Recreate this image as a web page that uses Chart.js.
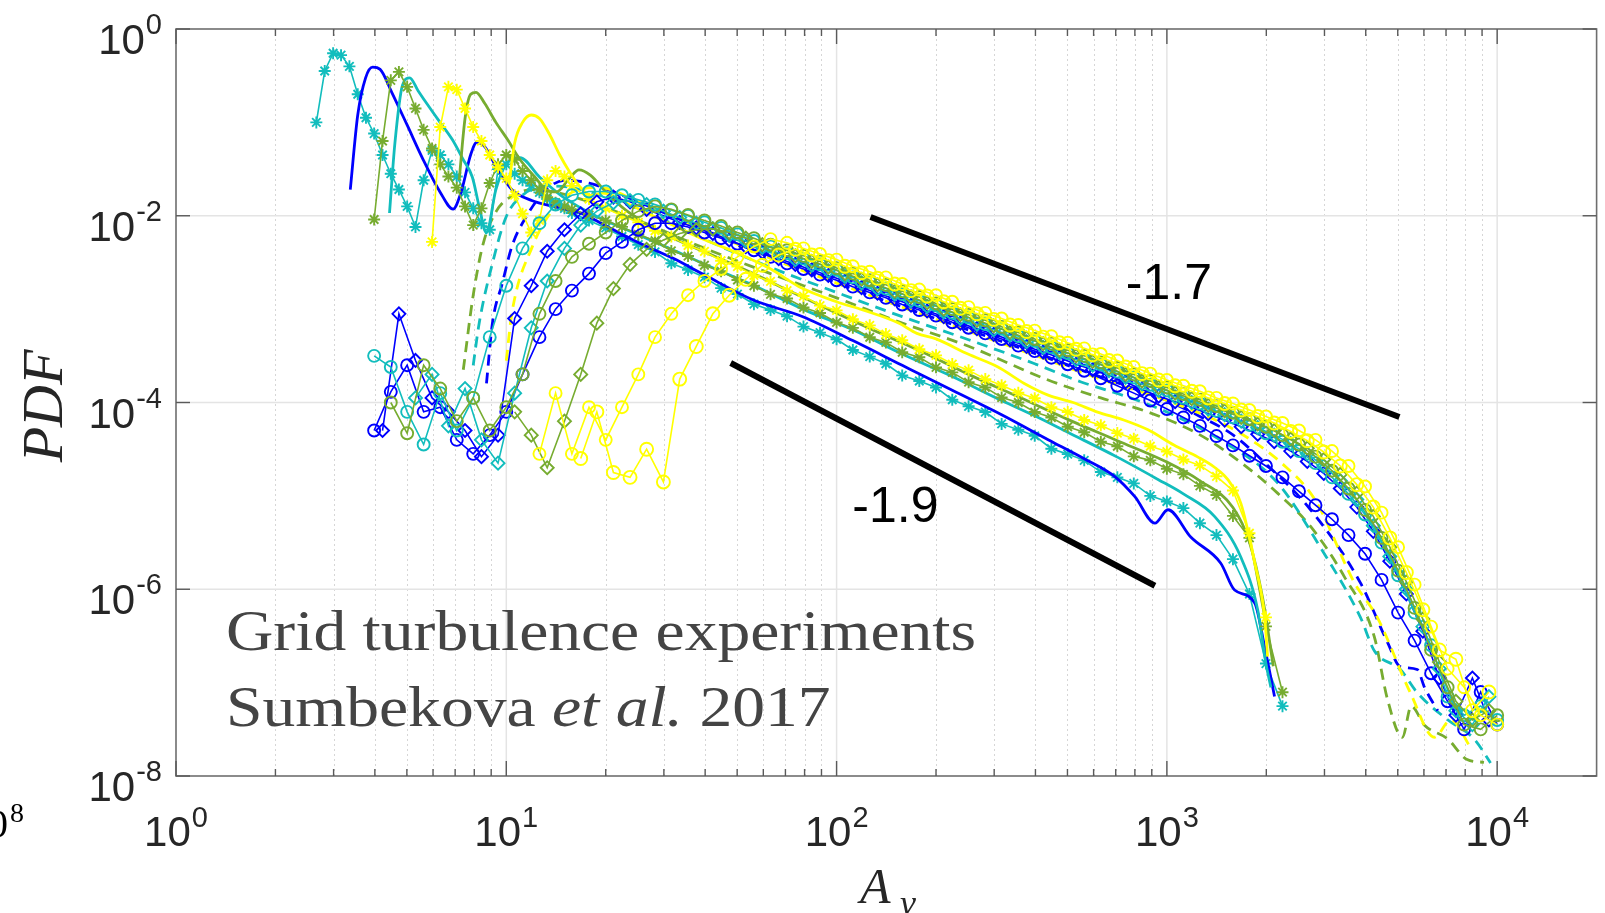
<!DOCTYPE html>
<html>
<head>
<meta charset="utf-8">
<script src="https://cdn.jsdelivr.net/npm/chart.js@4/dist/chart.umd.min.js"></script>
<style>
  html, body { margin: 0; padding: 0; background: #ffffff; overflow: hidden; }
  #wrap { width: 1605px; height: 913px; position: relative; }
</style>
</head>
<body>
<div id="wrap"><canvas id="c" width="1605" height="913"></canvas></div>
<script>
// ---------------- data ----------------
const xTickExps = [0, 1, 2, 3, 4];
const yTickExps = [0, -2, -4, -6, -8];
const yGridExps = [-2, -4, -6];

// shared bin centres (x) used by the marker series
const gridA = [3.98, 4.47, 5.01, 5.62, 6.31, 7.08, 7.94, 8.91, 10, 11.2, 12.6, 14.1, 15.8, 17.8, 20, 22.4, 25.1, 28.2, 31.6, 35.5, 39.8, 44.7, 50.1, 56.2, 63.1, 70.8, 79.4, 89.1, 100, 112, 126, 141, 158, 178, 200, 224, 251, 282, 316, 355, 398, 447, 501, 562, 631, 708, 794, 891, 1000, 1122, 1259, 1413, 1585, 1778, 1995, 2239, 2512, 2818, 3162, 3548, 3981, 4467, 5012, 5623, 6310, 7079, 7943, 8913, 10000];
const gridB = [4.22, 4.73, 5.31, 5.96, 6.68, 7.50, 8.41, 9.44, 10.6, 11.9, 13.3, 15.0, 16.8, 18.8, 21.1, 23.7, 26.6, 29.9, 33.5, 37.6, 42.2, 47.3, 53.1, 59.6, 66.8, 75.0, 84.1, 94.4, 106, 119, 133, 150, 168, 188, 211, 237, 266, 299, 335, 376, 422, 473, 531, 596, 668, 750, 841, 944, 1059, 1189, 1334, 1496, 1679, 1884, 2113, 2371, 2661, 2985, 3350, 3758, 4217, 4732, 5309, 5957, 6683, 7499, 8414, 9441];
const gridS = [2.51, 2.66, 2.82, 2.99, 3.16, 3.35, 3.55, 3.76, 3.98, 4.22, 4.47, 4.73, 5.01, 5.31, 5.62, 5.96, 6.31, 6.68, 7.08, 7.50, 7.94, 8.41, 8.91, 9.44, 10.0, 10.6, 11.2, 11.9, 12.6, 13.3, 14.1, 15.0, 15.8, 17.8, 20.0, 22.4, 25.1, 28.2, 31.6, 35.5, 39.8, 44.7, 50.1, 56.2, 63.1, 70.8, 79.4, 89.1, 100, 112, 126, 141, 158, 178, 200, 224, 251, 282, 316, 355, 398, 447, 501, 562, 631, 708, 794, 891, 1000, 1122, 1259, 1413, 1585, 1778, 1995, 2239];

// --- circles / diamonds (upper family) ---
const cyanCircY = [3.16e-4, 2.40e-4, 7.94e-5, 3.55e-5, 1.26e-4, 5.01e-5, 1.12e-4, 5.01e-4, 1.78e-3, 4.47e-3,
  8.32e-3, 1.32e-2, 1.66e-2, 1.82e-2, 1.82e-2, 1.66e-2, 1.48e-2, 1.32e-2, 1.15e-2, 1.00e-2,
  8.51e-3, 7.41e-3, 6.31e-3, 5.37e-3, 4.68e-3, 3.98e-3, 3.47e-3, 3.02e-3, 2.63e-3, 2.19e-3,
  1.95e-3, 1.66e-3, 1.45e-3, 1.23e-3, 1.10e-3, 9.12e-4, 8.13e-4, 6.92e-4, 6.17e-4, 5.13e-4,
  4.57e-4, 3.89e-4, 3.39e-4, 2.88e-4, 2.57e-4, 2.14e-4, 1.86e-4, 1.55e-4, 1.35e-4, 1.12e-4,
  9.77e-5, 8.13e-5, 6.92e-5, 5.75e-5, 4.68e-5, 3.80e-5, 3.02e-5, 2.24e-5, 1.58e-5, 1.05e-5,
  6.31e-6, 3.16e-6, 1.41e-6, 5.62e-7, 2.51e-7, 7.08e-8, 4.47e-8, 5.62e-8, 3.98e-8];
const greenCircY = [null, 1.00e-4, 4.68e-5, 2.51e-4, 1.41e-4, 6.31e-5, 1.12e-4, 5.01e-5, 8.91e-5, 2.00e-4,
  8.91e-4, 2.00e-3, 3.63e-3, 5.01e-3, 6.61e-3, 8.91e-3, 1.12e-2, 1.26e-2, 1.17e-2, 1.02e-2,
  8.91e-3, 7.76e-3, 6.61e-3, 5.75e-3, 4.90e-3, 4.27e-3, 3.72e-3, 3.24e-3, 2.75e-3, 2.40e-3,
  2.04e-3, 1.82e-3, 1.55e-3, 1.35e-3, 1.15e-3, 1.00e-3, 8.71e-4, 7.59e-4, 6.46e-4, 5.62e-4,
  4.79e-4, 4.27e-4, 3.63e-4, 3.16e-4, 2.69e-4, 2.34e-4, 2.00e-4, 1.70e-4, 1.45e-4, 1.23e-4,
  1.07e-4, 9.12e-5, 7.76e-5, 6.61e-5, 5.50e-5, 4.47e-5, 3.55e-5, 2.63e-5, 1.86e-5, 1.20e-5,
  7.08e-6, 3.55e-6, 1.58e-6, 6.31e-7, 2.24e-7, 8.91e-8, 3.55e-8, 3.16e-8, 4.47e-8];
const yellowCircAY = [null, null, null, null, null, null, null, null, null, null,
  2.82e-5, 1.26e-4, 2.82e-5, 8.91e-5, 3.98e-5, 8.91e-5, 2.00e-4, 5.01e-4, 8.91e-4, 1.41e-3,
  2.00e-3, 2.69e-3, 3.63e-3, 4.68e-3, 5.62e-3, 5.13e-3, 4.47e-3, 3.89e-3, 3.39e-3, 2.88e-3,
  2.51e-3, 2.19e-3, 1.86e-3, 1.62e-3, 1.41e-3, 1.20e-3, 1.05e-3, 9.12e-4, 7.94e-4, 6.76e-4,
  5.89e-4, 5.13e-4, 4.37e-4, 3.80e-4, 3.31e-4, 2.82e-4, 2.40e-4, 2.04e-4, 1.74e-4, 1.51e-4,
  1.32e-4, 1.12e-4, 9.77e-5, 8.32e-5, 7.08e-5, 6.03e-5, 5.01e-5, 3.98e-5, 3.02e-5, 2.09e-5,
  1.26e-5, 6.61e-6, 2.82e-6, 1.12e-6, 3.98e-7, 1.41e-7, 8.91e-8, 4.47e-8, 3.55e-8];
const blueCircY = [5.01e-5, 1.30e-4, 2.51e-4, 7.94e-5, 8.91e-5, 3.98e-5, 2.82e-5, 4.47e-5, 7.94e-5, 2.00e-4,
  5.01e-4, 1.00e-3, 1.58e-3, 2.40e-3, 3.98e-3, 5.25e-3, 7.08e-3, 8.32e-3, 8.32e-3, 7.59e-3,
  6.61e-3, 5.75e-3, 5.01e-3, 4.27e-3, 3.63e-3, 3.09e-3, 2.69e-3, 2.34e-3, 2.04e-3, 1.74e-3,
  1.51e-3, 1.32e-3, 1.12e-3, 9.77e-4, 8.51e-4, 7.24e-4, 6.31e-4, 5.50e-4, 4.79e-4, 4.07e-4,
  3.55e-4, 3.02e-4, 2.57e-4, 2.19e-4, 1.82e-4, 1.51e-4, 1.26e-4, 1.05e-4, 8.51e-5, 6.92e-5,
  5.62e-5, 4.37e-5, 3.47e-5, 2.69e-5, 2.09e-5, 1.58e-5, 1.12e-5, 7.94e-6, 5.62e-6, 3.80e-6,
  2.40e-6, 1.26e-6, 5.62e-7, 2.82e-7, 1.26e-7, 6.31e-8, 3.16e-8, 7.94e-8, 3.55e-8];
const blueDiamY = [5.01e-5, 8.91e-4, 2.82e-4, 1.12e-4, 7.94e-5, 5.01e-5, 2.63e-5, 4.47e-5,
  7.94e-4, 1.78e-3, 4.17e-3, 7.08e-3, 1.05e-2, 1.41e-2, 1.58e-2, 1.41e-2, 1.17e-2, 1.00e-2,
  8.51e-3, 7.41e-3, 6.46e-3, 5.50e-3, 4.68e-3, 4.07e-3, 3.47e-3, 3.02e-3, 2.63e-3, 2.29e-3,
  2.00e-3, 1.70e-3, 1.48e-3, 1.29e-3, 1.10e-3, 9.55e-4, 8.32e-4, 7.08e-4, 6.17e-4, 5.37e-4,
  4.68e-4, 3.98e-4, 3.47e-4, 3.02e-4, 2.57e-4, 2.24e-4, 1.95e-4, 1.66e-4, 1.38e-4, 1.17e-4,
  1.02e-4, 8.91e-5, 7.59e-5, 6.46e-5, 5.50e-5, 4.57e-5, 3.80e-5, 3.02e-5, 2.34e-5, 1.74e-5,
  1.20e-5, 7.59e-6, 4.17e-6, 2.00e-6, 8.91e-7, 3.55e-7, 1.12e-7, 4.47e-8, 1.12e-7, 3.98e-8];
const cyanDiamY = [null, null, 1.12e-4, 2.00e-4, 5.62e-5, 1.41e-4, 3.98e-5, 2.24e-5,
  1.26e-4, 6.31e-4, 2.00e-3, 4.47e-3, 7.94e-3, 1.12e-2, 1.38e-2, 1.45e-2, 1.32e-2, 1.12e-2,
  9.55e-3, 8.32e-3, 7.24e-3, 6.17e-3, 5.37e-3, 4.57e-3, 3.98e-3, 3.39e-3, 2.95e-3, 2.57e-3,
  2.24e-3, 1.91e-3, 1.66e-3, 1.45e-3, 1.23e-3, 1.07e-3, 9.33e-4, 7.94e-4, 6.92e-4, 6.03e-4,
  5.25e-4, 4.47e-4, 3.89e-4, 3.39e-4, 2.88e-4, 2.51e-4, 2.19e-4, 1.86e-4, 1.58e-4, 1.35e-4,
  1.15e-4, 1.00e-4, 8.51e-5, 7.41e-5, 6.31e-5, 5.37e-5, 4.47e-5, 3.63e-5, 2.82e-5, 2.09e-5,
  1.45e-5, 9.12e-6, 4.79e-6, 2.24e-6, 1.00e-6, 3.98e-7, 1.41e-7, 5.01e-8, 3.55e-8, 7.08e-8];
const greenDiamY = [null, null, null, null, null, null, null, null,
  7.94e-5, 4.47e-5, 2.00e-5, 6.31e-5, 2.00e-4, 7.08e-4, 1.66e-3, 3.02e-3, 4.37e-3, 5.50e-3,
  6.46e-3, 7.08e-3, 7.24e-3, 6.61e-3, 5.75e-3, 4.90e-3, 4.27e-3, 3.72e-3, 3.24e-3, 2.82e-3,
  2.40e-3, 2.09e-3, 1.82e-3, 1.55e-3, 1.35e-3, 1.17e-3, 1.00e-3, 8.71e-4, 7.59e-4, 6.61e-4,
  5.62e-4, 4.90e-4, 4.27e-4, 3.63e-4, 3.16e-4, 2.75e-4, 2.34e-4, 2.00e-4, 1.70e-4, 1.45e-4,
  1.26e-4, 1.10e-4, 9.33e-5, 8.13e-5, 6.92e-5, 5.89e-5, 5.01e-5, 4.07e-5, 3.24e-5, 2.45e-5,
  1.70e-5, 1.07e-5, 6.03e-6, 2.82e-6, 1.20e-6, 4.79e-7, 1.66e-7, 6.31e-8, 3.98e-8, 5.01e-8];
const yellowCircBY = [null, null, null, null, null, null, null, null, null, null, null, null,
  2.51e-5, 7.94e-5, 1.78e-5, 1.58e-5, 3.16e-5, 1.41e-5,
  1.78e-4, 3.98e-4, 8.91e-4, 1.41e-3, 2.09e-3, 2.95e-3, 3.80e-3, 4.37e-3, 3.80e-3, 3.31e-3,
  2.88e-3, 2.45e-3, 2.14e-3, 1.86e-3, 1.58e-3, 1.38e-3, 1.20e-3, 1.02e-3, 8.91e-4, 7.76e-4,
  6.76e-4, 5.75e-4, 5.01e-4, 4.37e-4, 3.72e-4, 3.24e-4, 2.82e-4, 2.40e-4, 2.04e-4, 1.74e-4,
  1.51e-4, 1.32e-4, 1.12e-4, 9.77e-5, 8.32e-5, 7.08e-5, 6.03e-5, 4.90e-5, 3.89e-5, 2.95e-5,
  2.09e-5, 1.32e-5, 7.59e-6, 3.55e-6, 1.51e-6, 6.03e-7, 2.24e-7, 1.78e-7, 5.01e-8, 7.94e-8];

// --- asterisk series (lower family) on gridS ---
const cyanStarY = [null, 0.100, 0.355, 0.550, 0.525, 0.398, 0.200, 0.112, 0.0759, 0.0447, 0.0282, 0.0191, 0.0126, 0.00759, 0.0240, 0.0501, 0.0447, 0.0355, 0.0263, 0.0178, 0.0120, 0.00832, 0.00708, 0.0316, 0.0355, 0.0282, 0.0240, 0.0209, 0.0178, 0.0151, 0.0132, 0.0120, 0.0107,
  8.9e-3, 7.4e-3, 6.0e-3, 4.9e-3, 4.1e-3, 3.1e-3, 2.63e-3, 2.2e-3, 1.68e-3, 1.45e-3,
  1.13e-3, 9.8e-4, 8.4e-4, 6.5e-4, 5.6e-4, 4.75e-4, 3.65e-4, 3.1e-4, 2.6e-4, 1.95e-4,
  1.7e-4, 1.45e-4, 1.07e-4, 9.1e-5, 7.9e-5, 5.9e-5, 5.1e-5, 4.4e-5, 3.2e-5, 2.8e-5,
  2.4e-5, 1.8e-5, 1.58e-5, 1.36e-5, 1.0e-5, 8.7e-6, 7.4e-6, 5.1e-6, 3.8e-6, 2.1e-6,
  8.9e-7, 1.6e-7, 5.6e-8];
const greenStarY = [null, null, null, null, null, null, null, null, 9.12e-3, 0.0631, 0.282, 0.347, 0.240, 0.141, 0.0832, 0.0525, 0.0355, 0.0263, 0.0200, 0.0126, 7.94e-3, 0.0120, 0.0224, 0.0355, 0.0447, 0.0398, 0.0302, 0.0240, 0.0191, 0.0158, 0.0138, 0.0126, 0.0117,
  1.02e-2, 8.9e-3, 7.6e-3, 6.3e-3, 5.4e-3, 4.2e-3, 3.7e-3, 2.95e-3, 2.55e-3, 2.05e-3,
  1.78e-3, 1.44e-3, 1.3e-3, 1.04e-3, 9.1e-4, 7.2e-4, 6.3e-4, 5.0e-4, 4.4e-4, 3.45e-4,
  3.05e-4, 2.38e-4, 2.1e-4, 1.65e-4, 1.45e-4, 1.13e-4, 1.0e-4, 7.9e-5, 6.9e-5, 5.5e-5,
  4.8e-5, 3.8e-5, 3.4e-5, 2.65e-5, 2.4e-5, 1.95e-5, 1.7e-5, 1.28e-5, 1.02e-5, 6.1e-6,
  3.55e-6, 4.0e-7, 7.9e-8];
const yellowStarY = [null, null, null, null, null, null, null, null, null, null, null, null, null, null, null, 5.25e-3, 0.0891, 0.240, 0.224, 0.141, 0.0891, 0.0631, 0.0447, 0.0331, 0.0251, 0.0166, 0.0105, 6.61e-3, 8.91e-3, 0.0240, 0.0302, 0.0263, 0.0209,
  1.51e-2, 1.2e-2, 1.0e-2, 8.5e-3, 6.9e-3, 6.0e-3, 4.8e-3, 4.15e-3, 3.3e-3, 2.85e-3,
  2.3e-3, 1.98e-3, 1.58e-3, 1.38e-3, 1.09e-3, 9.7e-4, 7.8e-4, 6.7e-4, 5.4e-4, 4.65e-4,
  3.72e-4, 3.2e-4, 2.58e-4, 2.22e-4, 1.78e-4, 1.53e-4, 1.27e-4, 1.11e-4, 8.9e-5, 7.9e-5,
  6.5e-5, 5.7e-5, 4.7e-5, 4.1e-5, 3.4e-5, 2.98e-5, 2.45e-5, 2.12e-5, 1.62e-5, 1.14e-5,
  3.98e-6, 5.0e-7, null];

// --- plain solid lines (lower family) ---
const blueSolidX = [3.37, 3.55, 3.75, 3.94, 4.15, 4.5, 5.0, 5.6, 6.3, 6.9, 7.3, 7.8, 8.14, 8.6, 9.3, 10.4, 12, 14, 17, 20, 25, 32, 40, 56, 79, 112, 158, 224, 316, 437, 562, 697, 800, 920, 1007, 1183, 1456, 1603, 1845, 1977, 2118];
const blueSolidY = [0.019, 0.12, 0.30, 0.39, 0.37, 0.21, 0.095, 0.040, 0.018, 0.0118, 0.018, 0.045, 0.061, 0.055, 0.034, 0.019, 0.0145, 0.0125, 0.0105, 0.0078, 0.0052, 0.0035, 0.0023, 0.00125, 8.3e-4, 4.6e-4, 2.5e-4, 1.35e-4, 7.4e-5, 4.0e-5, 2.5e-5, 1.6e-5, 9.8e-6, 5.1e-6, 7.1e-6, 3.6e-6, 1.9e-6, 9.8e-7, 7.1e-7, 2.4e-7, 7.1e-8];
const cyanSolidX = [4.43, 4.6, 4.85, 5.1, 5.4, 5.85, 6.3, 6.87, 7.4, 7.89, 8.3, 8.7, 9.3, 10, 11, 12.6, 14.8, 18.8, 25, 32, 40, 56, 79, 112, 158, 224, 316, 398, 501, 708, 940, 1122, 1396, 1675, 1884, 1995, 2065];
const cyanSolidY = [0.0107, 0.06, 0.25, 0.30, 0.22, 0.145, 0.10, 0.065, 0.040, 0.026, 0.012, 0.0066, 0.019, 0.036, 0.042, 0.026, 0.016, 0.0098, 0.0063, 0.0043, 0.0030, 0.0018, 1.0e-3, 6.0e-4, 3.3e-4, 1.9e-4, 1.05e-4, 7.2e-5, 4.8e-5, 2.6e-5, 1.5e-5, 1.05e-5, 6.0e-6, 2.2e-6, 6.0e-7, 1.6e-7, 8.9e-8];
const greenSolidX = [7.2, 7.5, 7.8, 8.1, 8.6, 9.3, 10.1, 11, 12.2, 13.2, 14.2, 15.5, 16.6, 18, 20, 23, 28, 35, 45, 56, 71, 89, 126, 178, 251, 355, 501, 708, 1000, 1259, 1585, 1778, 1950, 2100];
const greenSolidY = [0.024, 0.11, 0.20, 0.21, 0.16, 0.10, 0.065, 0.040, 0.026, 0.019, 0.018, 0.025, 0.031, 0.027, 0.018, 0.0115, 0.0072, 0.0050, 0.0034, 0.0024, 0.0016, 1.1e-3, 6.2e-4, 3.6e-4, 2.0e-4, 1.15e-4, 6.6e-5, 3.9e-5, 2.3e-5, 1.45e-5, 7.5e-6, 3.2e-6, 8e-7, 1.5e-7];
const yellowSolidX = [10.2, 10.6, 11.2, 11.9, 12.6, 13.5, 14.5, 15.5, 16.6, 18, 19.5, 21, 23, 26, 30, 35, 40, 50, 63, 77, 100, 120, 154, 175, 200, 250, 308, 370, 437, 520, 617, 740, 877, 1050, 1242, 1400, 1528, 1675, 1845, 1977, 2018];
const yellowSolidY = [0.022, 0.06, 0.10, 0.12, 0.11, 0.075, 0.045, 0.030, 0.021, 0.0165, 0.0175, 0.0165, 0.0138, 0.0112, 0.0088, 0.0068, 0.0055, 0.0040, 0.0027, 0.00174, 0.00120, 9.8e-4, 7.1e-4, 5.5e-4, 4.8e-4, 3.3e-4, 2.4e-4, 1.6e-4, 1.2e-4, 1.0e-4, 7.9e-5, 6.5e-5, 5.1e-5, 3.5e-5, 2.6e-5, 2.0e-5, 1.5e-5, 8.3e-6, 1.9e-6, 5.0e-7, 1.9e-7];

// --- dashed lines (middle family) ---
const greenDashX = [7.41, 7.94, 8.51, 9.33, 10.5, 12.0, 14.1, 17.8, 25.1, 39.8, 63.1, 100, 158, 251, 437, 631, 877, 1259, 1758, 2163, 2723, 3451, 4246, 4656, 5164, 5495, 6026, 7079, 8110, 9120];
const greenDashY = [2.24e-4, 1.41e-3, 5.0e-3, 0.0112, 0.0166, 0.019, 0.0178, 0.0141, 8.9e-3, 4.5e-3, 2.4e-3, 1.32e-3, 7.1e-4, 4.0e-4, 1.74e-4, 1.12e-4, 7.9e-5, 4.5e-5, 2.0e-5, 1.07e-5, 4.7e-6, 1.35e-6, 3.1e-7, 6.6e-8, 2.6e-8, 5.6e-8, 3.5e-8, 2.5e-8, 1.5e-8, 1.4e-8];
const cyanDashX = [7.94, 8.28, 9.08, 10, 11.2, 13.2, 15.8, 20, 28.2, 39.8, 63.1, 100, 158, 251, 398, 550, 776, 1000, 1413, 2163, 2917, 3855, 4246, 5093, 5728, 7079, 8511, 9550];
const cyanDashY = [2.5e-4, 7.1e-4, 3.1e-3, 9.8e-3, 0.0166, 0.0209, 0.020, 0.0158, 0.010, 5.6e-3, 2.8e-3, 1.51e-3, 8.3e-4, 4.7e-4, 2.6e-4, 1.66e-4, 1.12e-4, 7.9e-5, 4.2e-5, 1.38e-5, 2.8e-6, 5.0e-7, 2.2e-7, 1.38e-7, 7.8e-8, 4.0e-8, 2.5e-8, 1.38e-8];
const blueDashX = [8.71, 9.08, 9.73, 10.4, 11.5, 13.2, 15.1, 17.8, 22.4, 31.6, 50.1, 79.4, 126, 200, 316, 501, 794, 1000, 1259, 1585, 1995, 2723, 3855, 4656, 5093, 5728, 6026, 6607];
const blueDashY = [1.6e-4, 7.1e-4, 1.9e-3, 4.7e-3, 9.8e-3, 0.019, 0.024, 0.0224, 0.0166, 0.010, 5.0e-3, 2.6e-3, 1.41e-3, 7.9e-4, 4.5e-4, 2.5e-4, 1.41e-4, 1.05e-4, 7.1e-5, 4.5e-5, 2.2e-5, 7.1e-6, 1.17e-6, 2.7e-7, 1.48e-7, 1.38e-7, 8.9e-8, 5.0e-8];
const yellowDashX = [10, 10.4, 12.0, 13.8, 15.8, 19.1, 25.1, 39.8, 63.1, 100, 158, 251, 398, 631, 1000, 1585, 2239, 2818, 3698, 4335, 5458, 6457, 7244, 8318];
const yellowDashY = [2.8e-4, 9.1e-4, 4.7e-3, 0.0115, 0.0178, 0.020, 0.0141, 7.1e-3, 3.5e-3, 1.9e-3, 1.05e-3, 5.8e-4, 3.2e-4, 1.78e-4, 1.05e-4, 5.2e-5, 2.2e-5, 8.9e-6, 1.17e-6, 5.0e-7, 7.8e-8, 2.6e-8, 4.0e-8, 2.0e-8];

// --- reference slopes ---
const slope17X = [126.7, 5058];
const slope17Y = [9.7e-3, 7.0e-5];
const slope19X = [47.8, 920];
const slope19Y = [2.65e-4, 1.09e-6];
const slopeLabels = [
  { text: '-1.7', x: 1014, y: 1.82e-3 },
  { text: '-1.9', x: 150.7, y: 7.3e-6 }
];

// ---------------- chart ----------------
const C = { blue: '#0000FF', cyan: '#12BDBD', green: '#77AC30', yellow: '#FFFF00' };
const pts = (xs, ys) => xs.map((x, i) => ({ x: x, y: ys[i] })).filter(p => p.y !== null && p.y !== undefined);

const base = { showLine: true, fill: false, backgroundColor: 'rgba(0,0,0,0)', pointBackgroundColor: 'rgba(0,0,0,0)' };
function solid(xs, ys, c) { return Object.assign({}, base, { data: pts(xs, ys), borderColor: c, borderWidth: 2.8, pointRadius: 0, cubicInterpolationMode: 'monotone' }); }
function dashed(xs, ys, c) { return Object.assign({}, base, { data: pts(xs, ys), borderColor: c, borderWidth: 2.8, borderDash: [11, 7], pointRadius: 0, cubicInterpolationMode: 'monotone' }); }
function marked(xs, ys, c, style, r) { return Object.assign({}, base, { data: pts(xs, ys), borderColor: c, pointBorderColor: c, borderWidth: 1.6, pointStyle: style, pointRadius: r, pointBorderWidth: 1.9 }); }
function black(xs, ys) { return Object.assign({}, base, { data: pts(xs, ys), borderColor: '#000000', borderWidth: 6, pointRadius: 0 }); }

// first in list = drawn on top
const datasets = [
  black(slope17X, slope17Y),
  black(slope19X, slope19Y),
  marked(gridA, yellowCircAY, C.yellow, 'circle', 6),
  marked(gridB, yellowCircBY, C.yellow, 'circle', 6.5),
  marked(gridB, greenDiamY, C.green, 'rectRot', 6.5),
  marked(gridA, greenCircY, C.green, 'circle', 6),
  marked(gridB, cyanDiamY, C.cyan, 'rectRot', 6.5),
  marked(gridA, cyanCircY, C.cyan, 'circle', 6),
  marked(gridB, blueDiamY, C.blue, 'rectRot', 6.5),
  marked(gridA, blueCircY, C.blue, 'circle', 6),
  solid(yellowSolidX, yellowSolidY, C.yellow),
  marked(gridS, yellowStarY, C.yellow, 'star', 6),
  marked(gridS, greenStarY, C.green, 'star', 6),
  solid(greenSolidX, greenSolidY, C.green),
  solid(cyanSolidX, cyanSolidY, C.cyan),
  solid(blueSolidX, blueSolidY, C.blue),
  marked(gridS, cyanStarY, C.cyan, 'star', 6),
  dashed(yellowDashX, yellowDashY, C.yellow),
  dashed(blueDashX, blueDashY, C.blue),
  dashed(cyanDashX, cyanDashY, C.cyan),
  dashed(greenDashX, greenDashY, C.green)
];

function line(ctx, x1, y1, x2, y2) { ctx.beginPath(); ctx.moveTo(x1, y1); ctx.lineTo(x2, y2); ctx.stroke(); }

const BASE_FONT = '42px "Liberation Sans", Arial, sans-serif';
const SUP_FONT = '29px "Liberation Sans", Arial, sans-serif';
function pow10Label(ctx, exp, anchorX, baseY, supY, align) {
  const b = '10', e = String(exp);
  ctx.font = BASE_FONT;
  const wb = ctx.measureText(b).width;
  ctx.font = SUP_FONT;
  const we = ctx.measureText(e).width;
  const total = wb + 1 + we;
  const x0 = align === 'center' ? anchorX - total / 2 : anchorX - total;
  ctx.textAlign = 'left';
  ctx.textBaseline = 'alphabetic';
  ctx.font = BASE_FONT;
  ctx.fillText(b, x0, baseY);
  ctx.font = SUP_FONT;
  ctx.fillText(e, x0 + wb + 1, supY);
}

const deco = {
  id: 'deco',
  beforeDatasetsDraw(chart) {
    const { ctx, chartArea: a, scales } = chart;
    const xs = scales.x, ys = scales.y;
    ctx.save();
    ctx.strokeStyle = '#d6d6d6'; ctx.lineWidth = 1; ctx.setLineDash([2, 3]);
    for (let n = 0; n <= 4; n++) {
      for (let k = 2; k <= 9; k++) {
        const v = k * Math.pow(10, n);
        if (v >= xs.max) continue;
        const px = Math.round(xs.getPixelForValue(v)) + 0.5;
        line(ctx, px, a.top, px, a.bottom);
      }
    }
    ctx.setLineDash([]); ctx.strokeStyle = '#e4e4e4'; ctx.lineWidth = 1.5;
    for (const n of xTickExps) {
      if (n === 0) continue;
      const px = xs.getPixelForValue(Math.pow(10, n));
      line(ctx, px, a.top, px, a.bottom);
    }
    for (const e of yGridExps) {
      const py = ys.getPixelForValue(Math.pow(10, e));
      line(ctx, a.left, py, a.right, py);
    }
    ctx.restore();
  },
  afterDraw(chart) {
    const { ctx, chartArea: a, scales } = chart;
    const xs = scales.x, ys = scales.y;
    ctx.save();
    ctx.strokeStyle = '#6e6e6e'; ctx.lineWidth = 1.6; ctx.setLineDash([]);
    ctx.strokeRect(a.left, a.top, a.right - a.left, a.bottom - a.top);
    ctx.strokeStyle = '#5a5a5a'; ctx.lineWidth = 1.4;
    for (let n = 0; n <= 4; n++) {
      for (let k = 1; k <= 9; k++) {
        const v = k * Math.pow(10, n);
        if (v >= xs.max) continue;
        const px = xs.getPixelForValue(v);
        const len = k === 1 ? 15 : 7;
        line(ctx, px, a.bottom, px, a.bottom - len);
        line(ctx, px, a.top, px, a.top + len);
      }
    }
    for (const e of yTickExps) {
      const py = ys.getPixelForValue(Math.pow(10, e));
      line(ctx, a.left, py, a.left + 14, py);
      line(ctx, a.right, py, a.right - 14, py);
    }
    ctx.fillStyle = '#262626';
    for (const n of xTickExps) {
      const px = xs.getPixelForValue(Math.pow(10, n));
      pow10Label(ctx, n, px, a.bottom + 70, a.bottom + 51, 'center');
    }
    for (const e of yTickExps) {
      const py = ys.getPixelForValue(Math.pow(10, e));
      pow10Label(ctx, e, a.left - 14, py + 25, py + 5, 'right');
    }
    ctx.fillStyle = '#000000';
    ctx.font = '50px "Liberation Sans", Arial, sans-serif';
    ctx.textAlign = 'center'; ctx.textBaseline = 'middle';
    for (const l of slopeLabels) {
      ctx.fillText(l.text, xs.getPixelForValue(l.x), ys.getPixelForValue(l.y));
    }
    ctx.fillStyle = '#262626';
    ctx.save();
    ctx.translate(62, 406);
    ctx.rotate(-Math.PI / 2);
    ctx.font = 'italic 58px "Liberation Serif", "DejaVu Serif", serif';
    ctx.textAlign = 'center'; ctx.textBaseline = 'alphabetic';
    ctx.fillText('PDF', 0, 0);
    ctx.restore();
    ctx.textAlign = 'left'; ctx.textBaseline = 'alphabetic';
    ctx.font = 'italic 50px "Liberation Serif", "DejaVu Serif", serif';
    ctx.fillText('A', 860, 903);
    ctx.font = 'italic 36px "Liberation Serif", "DejaVu Serif", serif';
    ctx.fillText('v', 900, 915);
    ctx.fillStyle = '#444444';
    const l1 = 'Grid turbulence experiments';
    ctx.font = '57px "Liberation Serif", "DejaVu Serif", serif';
    const w1 = ctx.measureText(l1).width;
    const sx = 750 / w1;
    ctx.save();
    ctx.translate(226, 650); ctx.scale(sx, 1);
    ctx.fillText(l1, 0, 0);
    ctx.restore();
    ctx.save();
    ctx.translate(226, 726); ctx.scale(sx, 1);
    let cx = 0;
    ctx.font = '57px "Liberation Serif", "DejaVu Serif", serif';
    ctx.fillText('Sumbekova ', cx, 0); cx += ctx.measureText('Sumbekova ').width;
    ctx.font = 'italic 57px "Liberation Serif", "DejaVu Serif", serif';
    ctx.fillText('et al.', cx, 0); cx += ctx.measureText('et al.').width;
    ctx.font = '57px "Liberation Serif", "DejaVu Serif", serif';
    ctx.fillText(' 2017', cx, 0);
    ctx.restore();
    ctx.fillStyle = '#000000';
    ctx.font = '40px "Liberation Serif", serif';
    const w10 = ctx.measureText('10').width;
    ctx.fillText('10', 8 - w10, 837);
    ctx.font = '28px "Liberation Serif", serif';
    ctx.fillText('8', 10, 822);
    ctx.restore();
  }
};

new Chart(document.getElementById('c'), {
  type: 'scatter',
  data: { datasets: datasets },
  options: {
    responsive: false,
    animation: false,
    devicePixelRatio: 1,
    layout: { padding: { left: 176, right: 2, top: 29, bottom: 137 } },
    plugins: { legend: { display: false }, tooltip: { enabled: false } },
    scales: {
      x: { type: 'logarithmic', min: 1, max: 20000, display: false },
      y: { type: 'logarithmic', min: 1e-8, max: 1, display: false }
    }
  },
  plugins: [deco]
});
</script>
</body>
</html>
